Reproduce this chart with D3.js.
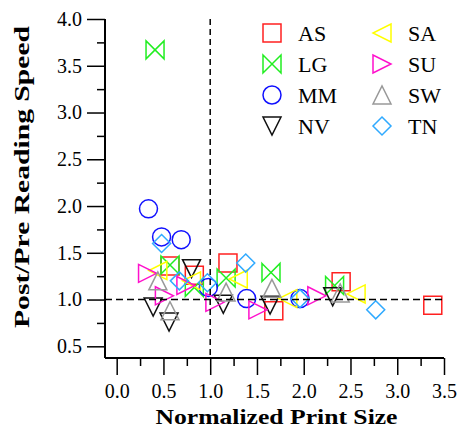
<!DOCTYPE html>
<html>
  <head>
    <meta charset="utf-8">
    <style>
    body { margin: 0; background: #fff; }
    svg text { font-family: "Liberation Serif", "Times New Roman", serif; fill: #000; }
    </style>
  </head>
  <body>
    <script src="https://cdn.jsdelivr.net/npm/d3@7"></script>
    <script>
      // groups, in legend order
      var groups = ["AS", "LG", "MM", "NV", "SA", "SU", "SW", "TN"];
      var colors = ["#ff2020", "#22ee22", "#1010ff", "#111111", "#ffff00", "#ff10cc", "#999999", "#30aaff"];
      var shapes = ["square", "bowtie", "circle", "down", "left", "right", "up", "diamond"];

      // normalized print size (x) and post/pre reading speed (y) per group
      var asX = [0.57, 0.83, 1.19, 1.68, 2.40, 3.38];
      var asY = [1.36, 1.26, 1.39, 0.88, 1.19, 0.94];
      var lgX = [0.41, 0.57, 0.83, 1.17, 1.65, 2.33];
      var lgY = [3.67, 1.37, 1.13, 1.23, 1.29, 1.15];
      var mmX = [0.34, 0.48, 0.69, 0.98, 1.39, 1.96];
      var mmY = [1.97, 1.67, 1.64, 1.13, 1.01, 1.01];
      var nvX = [0.39, 0.56, 0.80, 1.14, 1.64, 2.31];
      var nvY = [0.92, 0.76, 1.33, 0.95, 0.94, 1.03];
      var saX = [0.44, 0.80, 1.30, 1.83, 2.56];
      var saY = [1.31, 1.20, 1.22, 1.01, 1.06];
      var suX = [0.33, 0.51, 0.74, 1.05, 1.51, 2.14];
      var suY = [1.28, 1.04, 1.15, 0.97, 0.89, 1.04];
      var swX = [0.44, 0.57, 1.17, 1.66, 2.39];
      var swY = [1.20, 0.88, 1.08, 1.12, 1.07];
      var tnX = [0.48, 0.67, 0.97, 1.38, 1.96, 2.77];
      var tnY = [1.60, 1.20, 1.18, 1.39, 1.01, 0.89];
      var allX = [asX, lgX, mmX, nvX, saX, suX, swX, tnX];
      var allY = [asY, lgY, mmY, nvY, saY, suY, swY, tnY];

      var xTicks = [0.0, 0.5, 1.0, 1.5, 2.0, 2.5, 3.0, 3.5];
      var xMinor = [0.25, 0.75, 1.25, 1.75, 2.25, 2.75, 3.25];
      var yTicks = [0.5, 1.0, 1.5, 2.0, 2.5, 3.0, 3.5, 4.0];
      var yMinor = [0.75, 1.25, 1.75, 2.25, 2.75, 3.25, 3.75];

      var w = 459, h = 435;
      var plotL = 105, plotR = 444, plotT = 19, plotB = 358;

      var svg = d3.select("body").append("svg")
        .attr("width", w)
        .attr("height", h);

      var x = d3.scaleLinear().domain([-0.125, 3.5]).range([plotL, plotR]);
      var y = d3.scaleLinear().domain([0.375, 4.0]).range([plotB, plotT]);

      // marker paths, 18px box
      var s = 9;
      function markerPath(shape) {
        if (shape == "square") return "M" + -s + "," + -s + "H" + s + "V" + s + "H" + -s + "Z";
        if (shape == "bowtie") return "M" + -s + "," + -s + "L" + s + "," + s + "V" + -s + "L" + -s + "," + s + "Z";
        if (shape == "down") return "M" + -s + "," + -s + "H" + s + "L0," + s + "Z";
        if (shape == "up") return "M" + -s + "," + s + "H" + s + "L0," + -s + "Z";
        if (shape == "left") return "M" + s + "," + -s + "V" + s + "L" + -s + ",0Z";
        if (shape == "right") return "M" + -s + "," + -s + "V" + s + "L" + s + ",0Z";
        if (shape == "diamond") return "M0," + -s + "L" + s + ",0L0," + s + "L" + -s + ",0Z";
        return d3.symbol(d3.symbolCircle, Math.PI * s * s)();
      }

      // points
      groups.forEach(function(g, gi) {
        svg.append("g").selectAll("path")
          .data(allX[gi].map(function(v, i) { return [v, allY[gi][i]]; }))
          .enter()
          .append("path")
          .attr("d", markerPath(shapes[gi]))
          .attr("transform", function(d) { return "translate(" + x(d[0]) + "," + y(d[1]) + ")"; })
          .attr("fill", "none")
          .attr("stroke", colors[gi])
          .attr("stroke-width", 1.5);
      });

      // dashed reference lines
      svg.append("line")
        .attr("x1", x(1)).attr("x2", x(1))
        .attr("y1", y(4.0)).attr("y2", y(0.375))
        .attr("stroke", "#000").attr("stroke-width", 1.5)
        .attr("stroke-dasharray", "6,4");
      svg.append("line")
        .attr("x1", x(-0.125)).attr("x2", x(3.5))
        .attr("y1", y(1)).attr("y2", y(1))
        .attr("stroke", "#000").attr("stroke-width", 1.5)
        .attr("stroke-dasharray", "7,4");

      // axes
      function styleAxis(g) {
        g.select(".domain").remove();
        g.selectAll(".tick line").attr("stroke", "#000").attr("stroke-width", 1.5);
        g.selectAll("text").attr("font-size", "20px").attr("font-family", "Liberation Serif, serif");
      }
      svg.append("g")
        .attr("transform", "translate(0," + plotB + ")")
        .call(d3.axisBottom(x).tickValues(xTicks).tickSize(17).tickPadding(9).tickFormat(d3.format(".1f")))
        .call(styleAxis);
      svg.append("g")
        .attr("transform", "translate(0," + plotB + ")")
        .call(d3.axisBottom(x).tickValues(xMinor).tickSize(8).tickFormat(""))
        .call(styleAxis);
      svg.append("g")
        .attr("transform", "translate(" + plotL + ",0)")
        .call(d3.axisLeft(y).tickValues(yTicks).tickSize(18).tickPadding(5).tickFormat(d3.format(".1f")))
        .call(styleAxis);
      svg.append("g")
        .attr("transform", "translate(" + plotL + ",0)")
        .call(d3.axisLeft(y).tickValues(yMinor).tickSize(8).tickFormat(""))
        .call(styleAxis);

      svg.append("line")
        .attr("x1", plotL).attr("x2", plotL).attr("y1", plotT).attr("y2", plotB)
        .attr("stroke", "#000").attr("stroke-width", 2);
      svg.append("line")
        .attr("x1", plotL).attr("x2", plotR).attr("y1", plotB).attr("y2", plotB)
        .attr("stroke", "#000").attr("stroke-width", 2);

      // axis titles
      svg.append("text")
        .attr("x", (plotL + plotR) / 2 + 2)
        .attr("y", 424)
        .attr("text-anchor", "middle")
        .attr("font-size", "21px")
        .attr("font-weight", "bold")
        .attr("textLength", 242)
        .attr("lengthAdjust", "spacingAndGlyphs")
        .text("Normalized Print Size");
      svg.append("text")
        .attr("transform", "translate(29,177) rotate(-90)")
        .attr("text-anchor", "middle")
        .attr("font-size", "21px")
        .attr("font-weight", "bold")
        .attr("textLength", 302)
        .attr("lengthAdjust", "spacingAndGlyphs")
        .text("Post/Pre Reading Speed");

      // legend, two columns of four
      var legend = svg.append("g");
      groups.forEach(function(g, gi) {
        var col = Math.floor(gi / 4), row = gi % 4;
        var lx = 272 + col * 110, ly = 33 + row * 31;
        legend.append("path")
          .attr("d", markerPath(shapes[gi]))
          .attr("transform", "translate(" + lx + "," + ly + ")")
          .attr("fill", "none")
          .attr("stroke", colors[gi])
          .attr("stroke-width", 1.5);
        legend.append("text")
          .attr("x", lx + 26)
          .attr("y", ly + 8)
          .attr("font-size", "22px")
          .text(g);
      });
    </script>
  </body>
</html>
